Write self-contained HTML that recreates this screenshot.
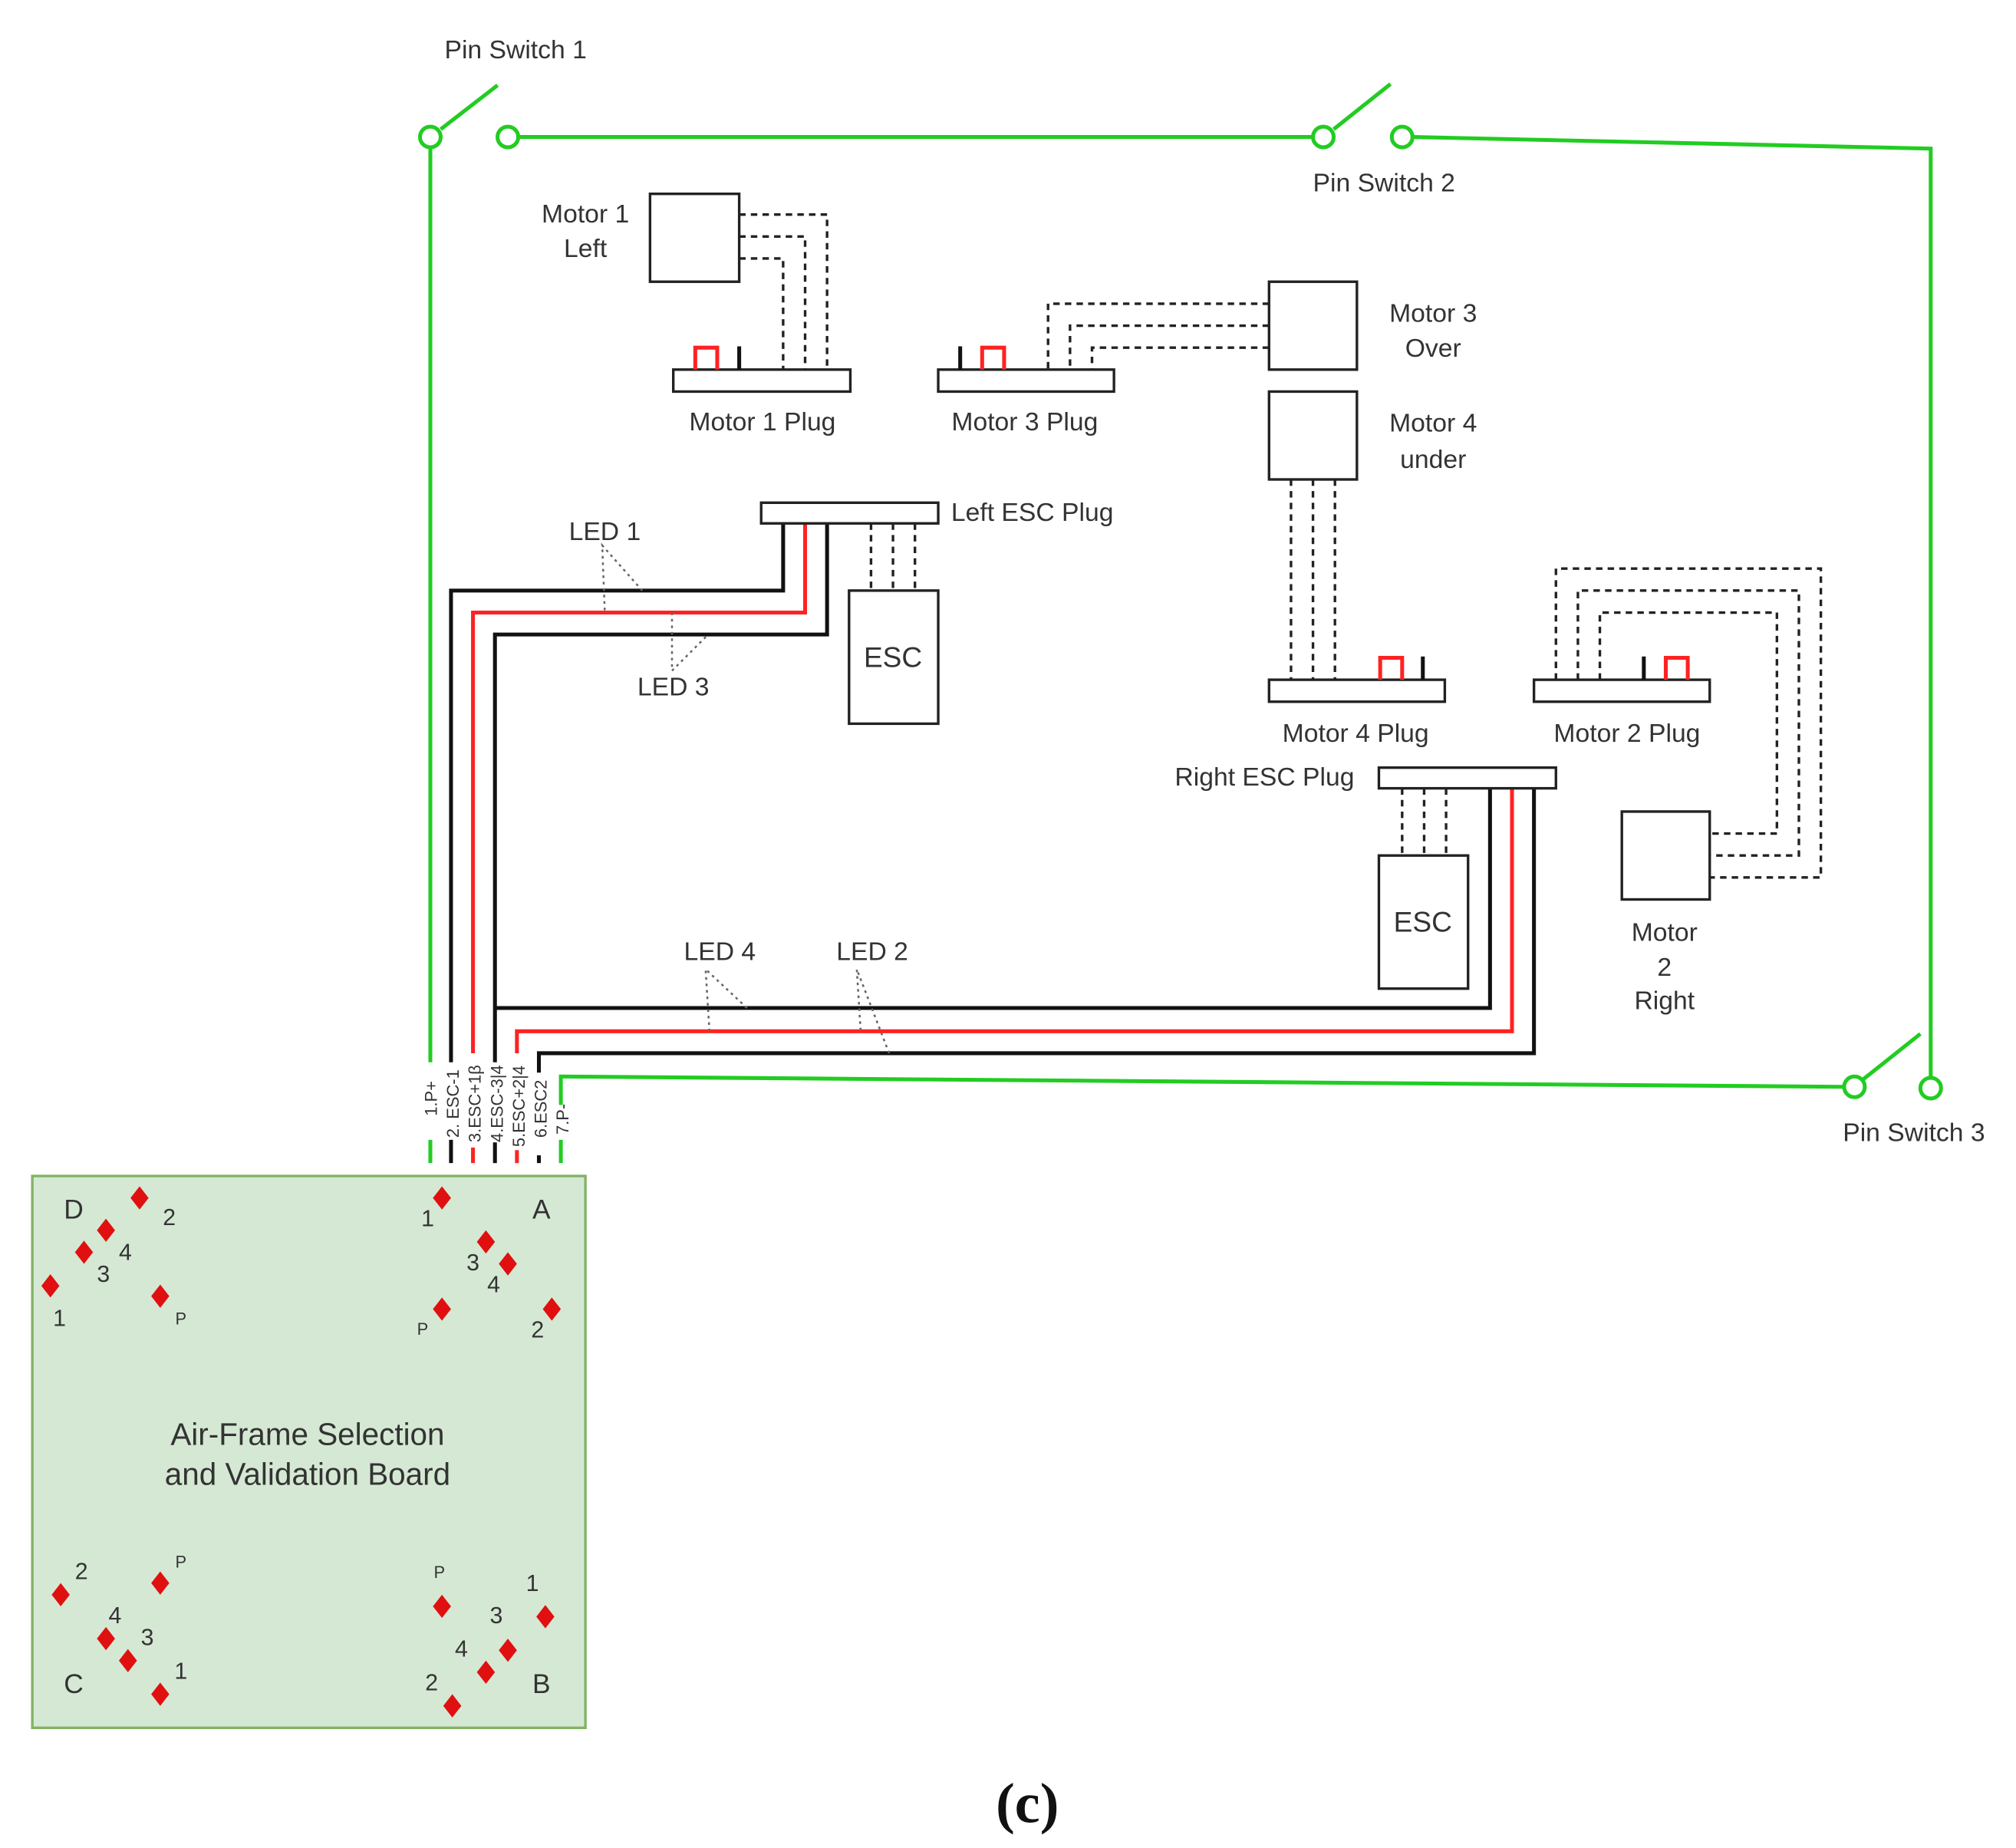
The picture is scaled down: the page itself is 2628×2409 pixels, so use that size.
<!DOCTYPE html>
<html><head><meta charset="utf-8"><style>
html,body{margin:0;padding:0;background:#fff;}
svg{display:block;}
text{font-family:"Liberation Sans",sans-serif;fill:#333;}
</style></head><body>
<svg width="2628" height="2409" viewBox="0 0 1560 1430" preserveAspectRatio="none" xmlns="http://www.w3.org/2000/svg">
<rect width="1560" height="1430" fill="#fff"/>
<g stroke="#22cc22" stroke-width="3" fill="none">
<line x1="333" y1="114" x2="333" y2="822"/>
<line x1="401" y1="106" x2="1016" y2="106"/>
<line x1="341" y1="100" x2="385" y2="66"/>
<line x1="1032" y1="100" x2="1076" y2="65"/>
<polyline points="1093,106 1494,115 1494,834"/>
<line x1="1442" y1="835" x2="1486" y2="800"/>
<polyline points="1427,841 434,833 434,855"/>
<line x1="333" y1="882" x2="333" y2="900"/>
<line x1="434" y1="882" x2="434" y2="900"/>
<circle cx="333" cy="106" r="8" fill="#fff"/>
<circle cx="393" cy="106" r="8" fill="#fff"/>
<circle cx="1024" cy="106" r="8" fill="#fff"/>
<circle cx="1085" cy="106" r="8" fill="#fff"/>
<circle cx="1435" cy="841" r="8" fill="#fff"/>
<circle cx="1494" cy="842" r="8" fill="#fff"/>
</g>
<g stroke-width="3" fill="none">
<polyline stroke="#111" points="349,822 349,457 606,457 606,405"/>
<polyline stroke="#f22" points="366,815 366,474 623,474 623,405"/>
<polyline stroke="#111" points="383,822 383,491 640,491 640,405"/>
<polyline stroke="#111" points="383,780 1153,780 1153,610"/>
<polyline stroke="#f22" points="400,815 400,798 1170,798 1170,610"/>
<polyline stroke="#111" points="417,830 417,815 1187,815 1187,610"/>
<line stroke="#111" x1="349" y1="882" x2="349" y2="900"/>
<line stroke="#f22" x1="366" y1="888" x2="366" y2="900"/>
<line stroke="#111" x1="383" y1="884" x2="383" y2="900"/>
<line stroke="#f22" x1="400" y1="890" x2="400" y2="900"/>
<line stroke="#111" x1="417" y1="894" x2="417" y2="900"/>
</g>
<g font-size="13" text-anchor="middle">
<text transform="translate(338,850) rotate(-90)">1.P+</text>
<text transform="translate(355,854) rotate(-90)">2. ESC-1</text>
<text transform="translate(372,854) rotate(-90)">3.ESC+1β</text>
<text transform="translate(389,854) rotate(-90)">4.ESC-3|4</text>
<text transform="translate(406,856) rotate(-90)">5.ESC+2|4</text>
<text transform="translate(423,858) rotate(-90)">6.ESC2</text>
<text transform="translate(440,866) rotate(-90)">7.P-</text>
</g>
<g stroke="#222" stroke-width="2" fill="#fff">
<rect x="503" y="150" width="69" height="68"/>
<rect x="982" y="218" width="68" height="68"/>
<rect x="982" y="303" width="68" height="68"/>
<rect x="1255" y="628" width="68" height="68"/>
<rect x="521" y="286" width="137" height="17"/>
<rect x="726" y="286" width="136" height="17"/>
<rect x="982" y="526" width="136" height="17"/>
<rect x="1187" y="526" width="136" height="17"/>
<rect x="589" y="389" width="137" height="16"/>
<rect x="1067" y="594" width="137" height="16"/>
<rect x="657" y="457" width="69" height="103"/>
<rect x="1067" y="662" width="69" height="103"/>
</g>
<g stroke="#222" stroke-width="2" fill="none" stroke-dasharray="5,4">
<polyline points="572,166 640,166 640,286"/>
<polyline points="572,183 623,183 623,286"/>
<polyline points="572,200 606,200 606,286"/>
<polyline points="982,235 811,235 811,286"/>
<polyline points="982,252 828,252 828,286"/>
<polyline points="982,269 845,269 845,286"/>
<line x1="999" y1="371" x2="999" y2="526"/>
<line x1="1016" y1="371" x2="1016" y2="526"/>
<line x1="1033" y1="371" x2="1033" y2="526"/>
<polyline points="1204,526 1204,440 1409,440 1409,679 1323,679"/>
<polyline points="1221,526 1221,457 1392,457 1392,662 1323,662"/>
<polyline points="1238,526 1238,474 1375,474 1375,645 1323,645"/>
<line x1="674" y1="405" x2="674" y2="457"/>
<line x1="691" y1="405" x2="691" y2="457"/>
<line x1="708" y1="405" x2="708" y2="457"/>
<line x1="1085" y1="610" x2="1085" y2="662"/>
<line x1="1102" y1="610" x2="1102" y2="662"/>
<line x1="1119" y1="610" x2="1119" y2="662"/>
</g>
<g stroke-width="3" fill="none">
<polyline stroke="#f22" points="538,286 538,269 555,269 555,286"/>
<line stroke="#111" x1="572" y1="268" x2="572" y2="286"/>
<line stroke="#111" x1="743" y1="268" x2="743" y2="286"/>
<polyline stroke="#f22" points="760,286 760,269 777,269 777,286"/>
<polyline stroke="#f22" points="1068,526 1068,509 1085,509 1085,526"/>
<line stroke="#111" x1="1101" y1="508" x2="1101" y2="526"/>
<line stroke="#111" x1="1272" y1="508" x2="1272" y2="526"/>
<polyline stroke="#f22" points="1289,526 1289,509 1306,509 1306,526"/>
</g>
<g stroke="#666" stroke-width="1.5" fill="none" stroke-dasharray="2,3">
<polyline points="497,457 466,422 468,474"/>
<polyline points="520,474 520,519 548,491"/>
<polyline points="578,780 546,750 549,798"/>
<polyline points="688,815 663,750 666,798"/>
</g>
<g font-size="20">
<text x="399" y="45" text-anchor="middle">Pin Switch 1</text>
<text x="1071" y="148" text-anchor="middle">Pin Switch 2</text>
<text x="1481" y="883" text-anchor="middle">Pin Switch 3</text>
<text x="453" y="172" text-anchor="middle">Motor 1</text>
<text x="453" y="199" text-anchor="middle">Left</text>
<text x="1109" y="249" text-anchor="middle">Motor 3</text>
<text x="1109" y="276" text-anchor="middle">Over</text>
<text x="1109" y="334" text-anchor="middle">Motor 4</text>
<text x="1109" y="362" text-anchor="middle">under</text>
<text x="1288" y="728" text-anchor="middle">Motor</text>
<text x="1288" y="755" text-anchor="middle">2</text>
<text x="1288" y="781" text-anchor="middle">Right</text>
<text x="590" y="333" text-anchor="middle">Motor 1 Plug</text>
<text x="793" y="333" text-anchor="middle">Motor 3 Plug</text>
<text x="1049" y="574" text-anchor="middle">Motor 4 Plug</text>
<text x="1259" y="574" text-anchor="middle">Motor 2 Plug</text>
<text x="736" y="403">Left ESC Plug</text>
<text x="1048" y="608" text-anchor="end">Right ESC Plug</text>
<text x="691" y="516" text-anchor="middle" font-size="22">ESC</text>
<text x="1101" y="721" text-anchor="middle" font-size="22">ESC</text>
<text x="468" y="418" text-anchor="middle">LED 1</text>
<text x="521" y="538" text-anchor="middle">LED 3</text>
<text x="557" y="743" text-anchor="middle">LED 4</text>
<text x="675" y="743" text-anchor="middle">LED 2</text>
</g>
<rect x="25" y="910" width="428" height="427" fill="#d5e8d4" stroke="#82b366" stroke-width="2"/>
<g fill="#e01010">
<polygon points="108,918 115,927 108,936 101,927"/>
<polygon points="82,943 89,952 82,961 75,952"/>
<polygon points="65,960 72,969 65,978 58,969"/>
<polygon points="39,986 46,995 39,1004 32,995"/>
<polygon points="124,994 131,1003 124,1012 117,1003"/>
<polygon points="342,918 349,927 342,936 335,927"/>
<polygon points="376,952 383,961 376,970 369,961"/>
<polygon points="393,969 400,978 393,987 386,978"/>
<polygon points="342,1004 349,1013 342,1022 335,1013"/>
<polygon points="427,1004 434,1013 427,1022 420,1013"/>
<polygon points="47,1225 54,1234 47,1243 40,1234"/>
<polygon points="124,1216 131,1225 124,1234 117,1225"/>
<polygon points="82,1259 89,1268 82,1277 75,1268"/>
<polygon points="99,1276 106,1285 99,1294 92,1285"/>
<polygon points="124,1302 131,1311 124,1320 117,1311"/>
<polygon points="342,1234 349,1243 342,1252 335,1243"/>
<polygon points="422,1242 429,1251 422,1260 415,1251"/>
<polygon points="393,1268 400,1277 393,1286 386,1277"/>
<polygon points="376,1285 383,1294 376,1303 369,1294"/>
<polygon points="350,1311 357,1320 350,1329 343,1320"/>
</g>
<g font-size="18" text-anchor="middle">
<text x="57" y="943" font-size="21">D</text>
<text x="131" y="948">2</text><text x="97" y="975">4</text><text x="80" y="992">3</text><text x="46" y="1026">1</text>
<text x="140" y="1025" font-size="13">P</text>
<text x="419" y="943" font-size="21">A</text>
<text x="331" y="949">1</text><text x="366" y="983">3</text><text x="382" y="1000">4</text><text x="416" y="1035">2</text>
<text x="327" y="1033" font-size="13">P</text>
<text x="63" y="1222">2</text><text x="140" y="1213" font-size="13">P</text><text x="89" y="1256">4</text><text x="114" y="1273">3</text>
<text x="57" y="1310" font-size="21">C</text><text x="140" y="1299">1</text>
<text x="340" y="1221" font-size="13">P</text><text x="412" y="1231">1</text><text x="384" y="1256">3</text><text x="357" y="1282">4</text><text x="334" y="1308">2</text>
<text x="419" y="1310" font-size="21">B</text>
<text x="238" y="1118" font-size="24">Air-Frame Selection</text>
<text x="238" y="1149" font-size="24">and Validation Board</text>
</g>
<text x="795" y="1410" text-anchor="middle" font-size="44" font-weight="bold" style="font-family:'Liberation Serif',serif;fill:#111">(c)</text>
</svg>
</body></html>
